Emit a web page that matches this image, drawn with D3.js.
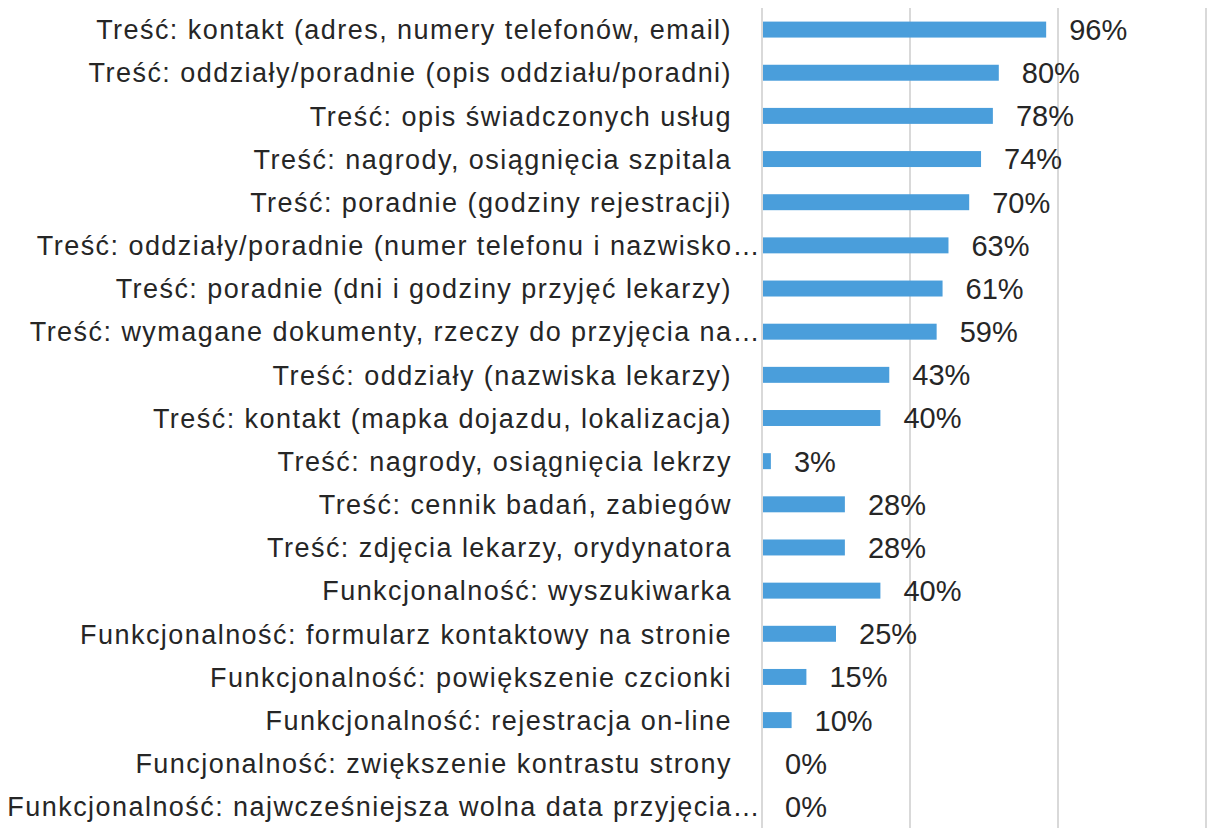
<!DOCTYPE html>
<html><head><meta charset="utf-8">
<script src="https://cdn.jsdelivr.net/npm/d3@7"></script>
<style>body{margin:0;background:#fff}</style>
</head><body>
<svg id="c" width="1212" height="836"></svg>
<script>
const categories = [
  "Treść: kontakt (adres, numery telefonów, email)",
  "Treść: oddziały/poradnie (opis oddziału/poradni)",
  "Treść: opis świadczonych usług",
  "Treść: nagrody, osiągnięcia szpitala",
  "Treść: poradnie (godziny rejestracji)",
  "Treść: oddziały/poradnie (numer telefonu i nazwisko…",
  "Treść: poradnie (dni i godziny przyjęć lekarzy)",
  "Treść: wymagane dokumenty, rzeczy do przyjęcia na…",
  "Treść: oddziały (nazwiska lekarzy)",
  "Treść: kontakt (mapka dojazdu, lokalizacja)",
  "Treść: nagrody, osiągnięcia lekrzy",
  "Treść: cennik badań, zabiegów",
  "Treść: zdjęcia lekarzy, orydynatora",
  "Funkcjonalność: wyszukiwarka",
  "Funkcjonalność: formularz kontaktowy na stronie",
  "Funkcjonalność: powiększenie czcionki",
  "Funkcjonalność: rejestracja on-line",
  "Funcjonalność: zwiększenie kontrastu strony",
  "Funkcjonalność: najwcześniejsza wolna data przyjęcia…"
];
const values = [0.96,0.80,0.78,0.74,0.70,0.63,0.61,0.59,0.43,0.40,0.03,0.28,0.28,0.40,0.25,0.15,0.10,0,0];
const xTicks = [0,0.5,1.0,1.5];

const svg = d3.select("#c");
const pLeft = 762, pTop = 8, pBottom = 828;
const x = d3.scaleLinear().domain([0,1.5]).range([pLeft, pLeft + 296*1.5]);
const y = d3.scaleBand().domain(categories).range([pTop, pBottom]).paddingInner(0.63).paddingOuter(0.315);

const grid = svg.append("g");
grid.selectAll("line").data(xTicks).join("line")
  .attr("x1", d=>x(d)).attr("x2", d=>x(d))
  .attr("y1", pTop).attr("y2", pBottom)
  .attr("stroke", "#d9d9d9").attr("stroke-width", 2);

svg.append("g").selectAll("rect").data(values).join("rect")
  .attr("x", x(0)+1)
  .attr("y", (d,i)=>y(categories[i]))
  .attr("width", d=>Math.max(0, x(d)-x(0)-1))
  .attr("height", y.bandwidth())
  .attr("fill", "#4a9edb");

svg.append("g").selectAll("text").data(values).join("text")
  .attr("x", d=>x(d)+23)
  .attr("y", (d,i)=>y(categories[i]) + y.bandwidth()/2)
  .attr("dy", "0.36em")
  .attr("font-family", "Liberation Sans, Arial, sans-serif")
  .attr("font-size", 29)
  .attr("fill", "#262626")
  .text(d=>d3.format(".0%")(d));

svg.append("g").selectAll("text").data(categories).join("text")
  .attr("x", d=> d.endsWith("…") ? 761 : 732)
  .attr("y", d=>y(d) + y.bandwidth()/2)
  .attr("dy", "0.36em")
  .attr("text-anchor", "end")
  .attr("font-family", "Liberation Sans, Arial, sans-serif")
  .attr("font-size", 27)
  .attr("letter-spacing", 1.45)
  .attr("fill", "#262626")
  .text(d=>d);
</script>
</body></html>
